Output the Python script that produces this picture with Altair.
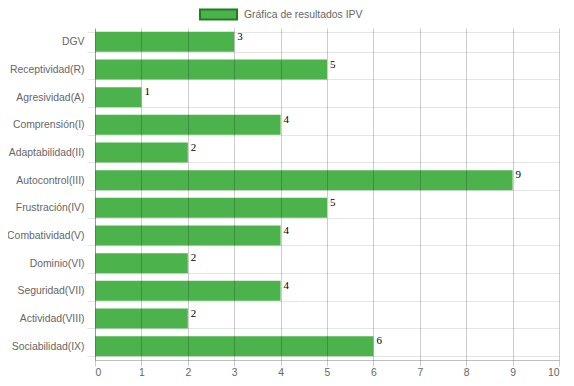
import altair as alt
import pandas as pd

categories = ["DGV", "Receptividad(R)", "Agresividad(A)", "Comprensión(I)",
              "Adaptabilidad(II)", "Autocontrol(III)", "Frustración(IV)",
              "Combatividad(V)", "Dominio(VI)", "Seguridad(VII)",
              "Actividad(VIII)", "Sociabilidad(IX)"]
values = [3, 5, 1, 4, 2, 9, 5, 4, 2, 4, 2, 6]
series_name = "Gráfica de resultados IPV"
x_ticks = list(range(0, 11))

df = pd.DataFrame({"categoria": categories, "valor": values,
                   "serie": [series_name] * len(categories)})

y_enc = alt.Y("categoria:N", sort=categories, title=None,
              scale=alt.Scale(paddingInner=0.28, paddingOuter=0.14),
              axis=alt.Axis(tickBand="extent", labelFont="Liberation Sans",
                            labelFontSize=10.4, labelColor="#666666",
                            labelPadding=3, tickSize=8,
                            tickColor="rgba(0,0,0,0.1)",
                            gridColor="rgba(0,0,0,0.1)", grid=True,
                            domainColor="rgba(0,0,0,0.25)"))
x_enc = alt.X("valor:Q", title=None,
              scale=alt.Scale(domain=[0, 10], nice=False),
              axis=alt.Axis(values=x_ticks, grid=True, zindex=1,
                            gridColor="rgba(0,0,0,0.2)",
                            tickColor="rgba(0,0,0,0.2)", tickSize=6,
                            domainColor="rgba(0,0,0,0.25)",
                            labelFont="Liberation Sans", labelFontSize=10.4,
                            labelColor="#666666", labelPadding=1))

bars = alt.Chart(df).mark_bar(opacity=1).encode(
    x=x_enc, y=y_enc,
    color=alt.Color("serie:N", scale=alt.Scale(range=["#4cb34c"]),
                    legend=alt.Legend(title=None, orient="none",
                                      legendX=104, legendY=-33,
                                      symbolType="M-1,-0.27L1,-0.27L1,0.27L-1,0.27Z",
                                      symbolSize=1369,
                                      symbolStrokeColor="#1e7d1e",
                                      symbolStrokeWidth=2,
                                      symbolOpacity=1,
                                      labelFont="Liberation Sans",
                                      labelFontSize=10.4,
                                      labelColor="#666666",
                                      labelOffset=6, padding=0))
)

labels = alt.Chart(df).mark_text(align="left", baseline="top", dx=3, dy=-11,
                                 font="Liberation Serif", fontSize=11,
                                 color="#000000").encode(
    x=alt.X("valor:Q"),
    y=alt.Y("categoria:N", sort=categories),
    text="valor:Q")

chart = alt.layer(bars, labels).properties(
    width=464, height=332,
    autosize=alt.AutoSizeParams(type="none"),
    padding={"left": 87, "top": 20, "right": 7, "bottom": 18}
).configure_view(stroke=None)

chart.save("out.html", embed_options={"renderer": "svg", "actions": False})
